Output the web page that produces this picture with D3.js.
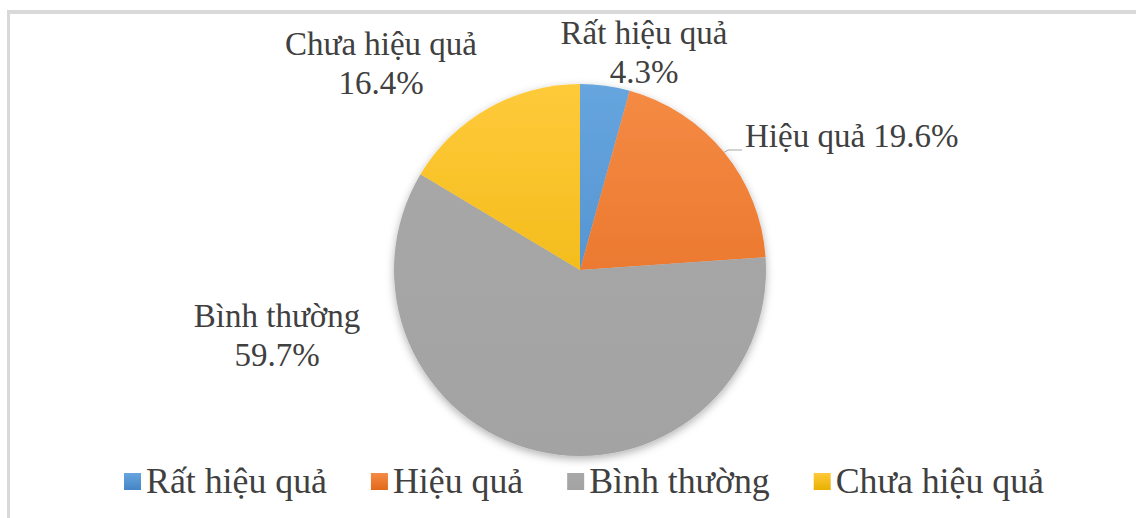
<!DOCTYPE html>
<html>
<head>
<meta charset="utf-8">
<script src="https://cdn.jsdelivr.net/npm/d3@7"></script>
<style>
  body { margin: 0; background: #fff; }
  svg { display: block; }
</style>
</head>
<body>
<div class="PieChart"></div>
<script>
// data
const categories = ["Rất hiệu quả", "Hiệu quả", "Bình thường", "Chưa hiệu quả"];
const values = [4.3, 19.6, 59.7, 16.4];
const colorsTop = ["#66a5de", "#f58b45", "#a8a8a8", "#ffca3a"];
const colorsBottom = ["#4585c6", "#e2681a", "#a3a3a3", "#e8b000"];

// label placement (centre x, first baseline y) for each slice label
const labelPos = [
  { x: 644, y: 44, twoLines: true },
  { x: 745, y: 147, twoLines: false, anchor: "start" },
  { x: 277, y: 327, twoLines: true },
  { x: 381, y: 55, twoLines: true },
];

function init() {
  const width = 1136;
  const height = 518;
  const cx = 580;
  const cy = 270;
  const radius = 186;
  const textColor = "#404040";
  const font = "'Liberation Serif', 'Times New Roman', serif";

  const svg = d3
    .select(".PieChart")
    .append("svg")
    .attr("width", width)
    .attr("height", height);

  const defs = svg.append("defs");

  // gradients for each slice
  categories.forEach((c, i) => {
    const g = defs
      .append("linearGradient")
      .attr("id", `grad-${i}`)
      .attr("gradientUnits", "userSpaceOnUse")
      .attr("x1", 0)
      .attr("y1", -radius)
      .attr("x2", 0)
      .attr("y2", radius);
    g.append("stop").attr("offset", "0%").attr("stop-color", colorsTop[i]);
    g.append("stop").attr("offset", "100%").attr("stop-color", colorsBottom[i]);

    const lg = defs
      .append("linearGradient")
      .attr("id", `legend-grad-${i}`)
      .attr("x1", 0)
      .attr("y1", 0)
      .attr("x2", 0)
      .attr("y2", 1);
    lg.append("stop").attr("offset", "0%").attr("stop-color", colorsTop[i]);
    lg.append("stop").attr("offset", "100%").attr("stop-color", colorsBottom[i]);
  });

  const shadow = defs
    .append("filter")
    .attr("id", "shadow")
    .attr("x", "-20%")
    .attr("y", "-20%")
    .attr("width", "140%")
    .attr("height", "140%");
  shadow
    .append("feDropShadow")
    .attr("dx", 0)
    .attr("dy", 3)
    .attr("stdDeviation", 4)
    .attr("flood-color", "#000")
    .attr("flood-opacity", 0.3);

  // chart border (only top/left visible in the crop)
  svg
    .append("line")
    .attr("x1", 7)
    .attr("x2", width)
    .attr("y1", 12)
    .attr("y2", 12)
    .attr("stroke", "#d9d9d9")
    .attr("stroke-width", 4);
  svg
    .append("line")
    .attr("x1", 8.5)
    .attr("x2", 8.5)
    .attr("y1", 10)
    .attr("y2", height)
    .attr("stroke", "#d9d9d9")
    .attr("stroke-width", 3);

  const pie = d3.pie().sort(null).value((d) => d);
  const arcs = pie(values);
  const arc = d3.arc().innerRadius(0).outerRadius(radius);

  const g = svg
    .append("g")
    .attr("transform", `translate(${cx},${cy})`)
    .attr("filter", "url(#shadow)");

  g.selectAll("path")
    .data(arcs)
    .enter()
    .append("path")
    .attr("d", arc)
    .attr("fill", (d, i) => `url(#grad-${i})`);

  // leader line for "Hiệu quả"
  const hq = arcs[1];
  const mid = (hq.startAngle + hq.endAngle) / 2;
  const ex = cx + radius * Math.sin(mid);
  const ey = cy - radius * Math.cos(mid);
  svg
    .append("polyline")
    .attr("points", `${ex},${ey} ${ex + 4},${labelPos[1].y + 3} ${labelPos[1].x - 3},${labelPos[1].y + 3}`)
    .attr("fill", "none")
    .attr("stroke", "#a6a6a6")
    .attr("stroke-width", 1);

  // data labels
  arcs.forEach((d, i) => {
    const p = labelPos[i];
    const pct = d3.format(".1f")(values[i]) + "%";
    const t = svg
      .append("text")
      .attr("font-family", font)
      .attr("font-size", 33)
      .attr("fill", textColor)
      .attr("text-anchor", p.anchor || "middle");
    if (p.twoLines) {
      t.append("tspan").attr("x", p.x).attr("y", p.y).text(categories[i]);
      t.append("tspan").attr("x", p.x).attr("y", p.y + 39).text(pct);
    } else {
      t.attr("x", p.x).attr("y", p.y).text(`${categories[i]} ${pct}`);
    }
  });

  // legend
  const legend = svg.append("g");
  const sw = 17;
  const gapText = 5;
  const gapItem = 44;
  const items = categories.map((c, i) => {
    const item = legend.append("g");
    item
      .append("rect")
      .attr("y", 473)
      .attr("width", sw)
      .attr("height", sw)
      .attr("fill", `url(#legend-grad-${i})`);
    const txt = item
      .append("text")
      .attr("x", sw + gapText)
      .attr("y", 493)
      .attr("font-family", font)
      .attr("font-size", 35.8)
      .attr("fill", textColor)
      .text(c);
    return { item, w: sw + gapText + txt.node().getComputedTextLength() };
  });
  const total = d3.sum(items, (d) => d.w) + gapItem * (items.length - 1);
  let x = 584 - total / 2;
  items.forEach((d) => {
    d.item.attr("transform", `translate(${x},0)`);
    x += d.w + gapItem;
  });
}

init();
</script>
</body>
</html>
